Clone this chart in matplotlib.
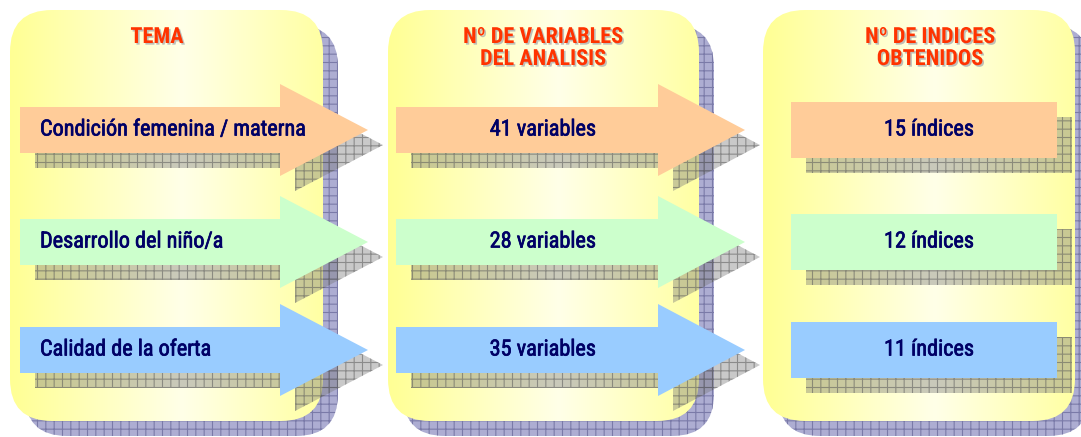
import numpy as np
import matplotlib
matplotlib.use("Agg")
import matplotlib.pyplot as plt
from matplotlib import font_manager
from matplotlib.patches import FancyBboxPatch, Polygon, Rectangle
import matplotlib.patheffects as pe

# chart content
headers = ["TEMA", "Nº DE VARIABLES\nDEL ANALISIS", "Nº DE INDICES\nOBTENIDOS"]
temas = ["Condición femenina / materna", "Desarrollo del niño/a", "Calidad de la oferta"]
n_variables = [41, 28, 35]
n_indices = [15, 12, 11]
row_colors = ["#FFCC99", "#CCFFCC", "#99CCFF"]

# pick a narrow sans if there is one
installed = {f.name for f in font_manager.fontManager.ttflist}
FONT = next((f for f in ["Liberation Sans Narrow", "DejaVu Sans Condensed", "Roboto Condensed",
                         "Liberation Sans"] if f in installed), "DejaVu Sans")
plt.rcParams["font.family"] = [FONT, "DejaVu Sans"]
plt.rcParams["hatch.linewidth"] = 0.8

W, H = 1081, 437
fig = plt.figure(figsize=(W / 100, H / 100), dpi=100)
ax = fig.add_axes([0, 0, 1, 1])
ax.set_xlim(0, W); ax.set_ylim(H, 0); ax.axis("off")

panels_x = [(10, 323), (388, 699), (763, 1075)]
py0, py1 = 10, 421
rad = 42
sh = 15  # shadow offset
row_y = [130, 242, 350]
text_c = "#000066"
head_c = "#FF3300"

# horizontal yellow gradient for the panels
t = np.linspace(0, 1, 300)
k = np.clip(1 - np.abs(t - 0.55) / 0.55, 0, 1)
grad = np.zeros((1, t.size, 3))
grad[..., 0] = 1.0
grad[..., 1] = 1.0
grad[..., 2] = (148 + (232 - 148) * k) / 255

for x0, x1 in panels_x:
    shadow = FancyBboxPatch((x0 + sh, py0 + sh), x1 - x0, py1 - py0,
                            boxstyle=f"round,pad=0,rounding_size={rad}",
                            facecolor="#ADADD2", edgecolor="#7A7AA8", hatch="++", lw=0, zorder=1)
    ax.add_patch(shadow)
    box = FancyBboxPatch((x0, py0), x1 - x0, py1 - py0,
                         boxstyle=f"round,pad=0,rounding_size={rad}",
                         facecolor="none", edgecolor="none", zorder=2)
    ax.add_patch(box)
    im = ax.imshow(grad, extent=(x0, x1, py1, py0), aspect="auto", zorder=2)
    im.set_clip_path(box)

ax.set_xlim(0, W); ax.set_ylim(H, 0)

shadow_kw = dict(facecolor=(0.47, 0.47, 0.47, 0.40), edgecolor=(0.35, 0.35, 0.35, 0.55),
                 hatch="++", lw=0, zorder=3)


def arrow_pts(x0, x_neck, x_tip, yc, half_body=23, half_head=46):
    return [(x0, yc - half_body), (x_neck, yc - half_body), (x_neck, yc - half_head),
            (x_tip, yc), (x_neck, yc + half_head), (x_neck, yc + half_body), (x0, yc + half_body)]


# regular weight, thickened a little
body_fx = [pe.Stroke(linewidth=0.5, foreground=text_c), pe.Normal()]
txt_kw = dict(va="center", fontsize=16, color=text_c, zorder=5, path_effects=body_fx)

arrow_cols = [(20, 280, 368), (396, 658, 745)]
for i, yc in enumerate(row_y):
    for x0, xn, xt in arrow_cols:
        pts = np.array(arrow_pts(x0, xn, xt, yc))
        ax.add_patch(Polygon(pts + sh, closed=True, **shadow_kw))
        ax.add_patch(Polygon(pts, closed=True, facecolor=row_colors[i], edgecolor="none", zorder=4))
    # index boxes in the third panel
    bx0, bx1 = 791, 1057
    ax.add_patch(Rectangle((bx0 + sh, yc - 28 + sh), bx1 - bx0, 56, **shadow_kw))
    ax.add_patch(Rectangle((bx0, yc - 28), bx1 - bx0, 56, facecolor=row_colors[i],
                           edgecolor="none", zorder=4))

    ax.text(40, yc, temas[i], ha="left", **txt_kw)
    ax.text(543, yc, f"{n_variables[i]} variables", ha="center", **txt_kw)
    ax.text(929, yc, f"{n_indices[i]} índices", ha="center", **txt_kw)

head_fx = [pe.withSimplePatchShadow(offset=(1.2, -1.2), shadow_rgbFace="#B0B0B0", alpha=0.8)]
head_x = [157, 543, 930]
for hx, label in zip(head_x, headers):
    ax.text(hx, 26, label, ha="center", va="top", fontsize=16, fontweight="bold",
            color=head_c, linespacing=1.0, zorder=5, path_effects=head_fx)

fig.savefig("out.png", dpi=100)
